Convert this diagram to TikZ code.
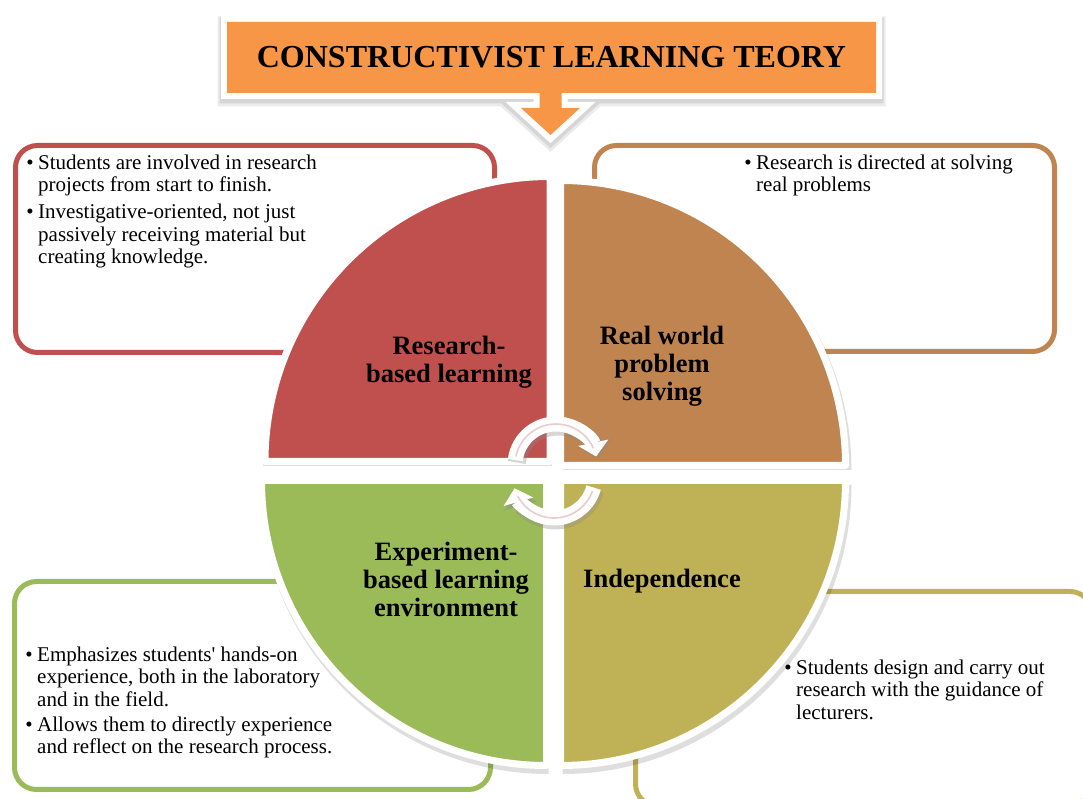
\documentclass[tikz,border=0pt]{standalone}
\usepackage{fontspec}
\setmainfont{Liberation Serif}
\usetikzlibrary{arrows.meta}
\definecolor{qred}{HTML}{C0504D}
\definecolor{qbrown}{HTML}{BF8450}
\definecolor{qgreen}{HTML}{9BBB59}
\definecolor{qolive}{HTML}{BFB256}
\definecolor{torange}{HTML}{F79646}
\definecolor{cpink}{HTML}{E9CDCD}
\newcommand{\bul}{\llap{\textbullet\hspace{4.5pt}}}
\begin{document}
\begin{tikzpicture}[x=1pt,y=1pt,
  infobox/.style={rounded corners=22, line width=5},
  bodytext/.style={font=\fontsize{21}{22.5}\selectfont, align=left, anchor=north west, inner sep=0pt},
  quadlabel/.style={font=\fontsize{26.5}{28}\selectfont\bfseries, align=center, inner sep=0pt},
  quad/.style={draw=white, line width=7, line join=round},
  qshadow/.style={fill=black, opacity=0.13},
  cyclearrow/.style={draw=white, line width=15, -{Triangle[width=30pt,length=14pt]}},
  cycleshadow/.style={draw=black!45, line width=18, opacity=0.35, -{Triangle[width=34pt,length=16pt]}},
  cycleline/.style={draw=cpink, line width=1.6},
  callout/.pic={\path[pic actions] (227,777) -- (876,777) -- (876,706) -- (561.5,706) -- (561.5,691) -- (580,691) -- (550.5,664) -- (521,691) -- (539.5,691) -- (539.5,706) -- (227,706) -- cycle;}
]
\useasboundingbox (0,0) rectangle (1083,799);
\begin{scope}
\clip (0,0) rectangle (1083,799);

% information boxes (behind the circle)
\draw[infobox, draw=qred]   (15.5,446.5) rectangle (494.5,653.5);
\draw[infobox, draw=qbrown] (594.5,447.5) rectangle (1054.5,653.5);
\draw[infobox, draw=qgreen] (14.5,9.5) rectangle (490.5,217.5);
\draw[infobox, draw=qolive] (635.5,-7) rectangle (1092,207.5);

% quadrant shadows
\fill[qshadow] (552,333) -- ++(-289,0) arc[start angle=180,end angle=90,radius=289] -- cycle;
\fill[qshadow] (562.5,329) -- ++(0,289) arc[start angle=90,end angle=0,radius=289] -- cycle;
\fill[qshadow] (548.5,314) -- ++(0,-289) arc[start angle=270,end angle=180,radius=289] -- cycle;
\fill[qshadow] (562.5,314) -- ++(289,0) arc[start angle=0,end angle=-90,radius=289] -- cycle;

% quadrants
\filldraw[quad, fill=qred]   (550,337.5) -- ++(-285,0) arc[start angle=180,end angle=90,radius=285] -- cycle;
\filldraw[quad, fill=qbrown] (560.5,333.5) -- ++(0,285) arc[start angle=90,end angle=0,radius=285] -- cycle;
\filldraw[quad, fill=qgreen] (546.5,318.5) -- ++(0,-285) arc[start angle=270,end angle=180,radius=285] -- cycle;
\filldraw[quad, fill=qolive] (560.5,318.5) -- ++(285,0) arc[start angle=0,end angle=-90,radius=285] -- cycle;

% quadrant labels
\node[quadlabel] (lred)   at (449,437)  {Research-\\based learning};
\node[quadlabel] (lbrown) at (662,433)  {Real world\\problem\\solving};
\node[quadlabel] (lgreen) at (446,220)  {Experiment-\\based learning\\environment};
\node[quadlabel] (lolive) at (662,217.5) {Independence};

% box texts
\node[bodytext] (tred1) at (38,645.75) {\strut\bul Students are involved in research\\projects from start to finish.};
\node[bodytext] (tred2) at (38,596.25) {\strut\bul Investigative-oriented,\ not just\\passively receiving material but\\creating knowledge.};
\node[bodytext] (tbrown) at (756,645.75) {\strut\bul Research is directed at solving\\real problems};
\node[bodytext] (tgreen1) at (37,153.75) {\strut\bul Emphasizes students\textquotesingle\ hands-on\\experience, both in the laboratory\\and in the field.};
\node[bodytext] (tgreen2) at (37,83.75) {\strut\bul Allows them to directly experience\\and reflect on the research process.};
\node[bodytext] (tolive) at (796,140.75) {\strut\bul Students design and carry out\\research with the guidance of\\lecturers.};

% cycle arrows
\coordinate (ctop) at (556,334);
\coordinate (cbot) at (554,322);
\draw[cycleshadow] ([shift={(1.5,-2.5)}]ctop) ++(173:41) arc[start angle=173,end angle=12,radius=41];
\draw[cycleshadow] ([shift={(1.5,-2.5)}]cbot) ++(-15:41) arc[start angle=-15,end angle=-164,radius=41];
\draw[cyclearrow] (ctop) ++(173:41) arc[start angle=173,end angle=12,radius=41];
\draw[cyclearrow] (cbot) ++(-15:41) arc[start angle=-15,end angle=-164,radius=41];
\draw[cycleline] (ctop) ++(168:41) arc[start angle=168,end angle=24,radius=41];
\draw[cycleline] (cbot) ++(-20:41) arc[start angle=-20,end angle=-152,radius=41];

% title callout: soft shadow, white border, orange body
\pic[fill=black!8, draw=black!8, line width=19, line join=miter] at (0,-4) {callout};
\pic[fill=black!16, draw=black!16, line width=15, line join=miter] at (0,-3) {callout};
\pic[fill=white, draw=white, line width=12, line join=miter] at (0,0) {callout};
\pic[fill=torange] at (0,0) {callout};
\node[font=\fontsize{32}{36}\selectfont\bfseries, inner sep=0pt] (title) at (551.5,741.5) {CONSTRUCTIVIST LEARNING TEORY};
\end{scope}
\end{tikzpicture}
\end{document}
